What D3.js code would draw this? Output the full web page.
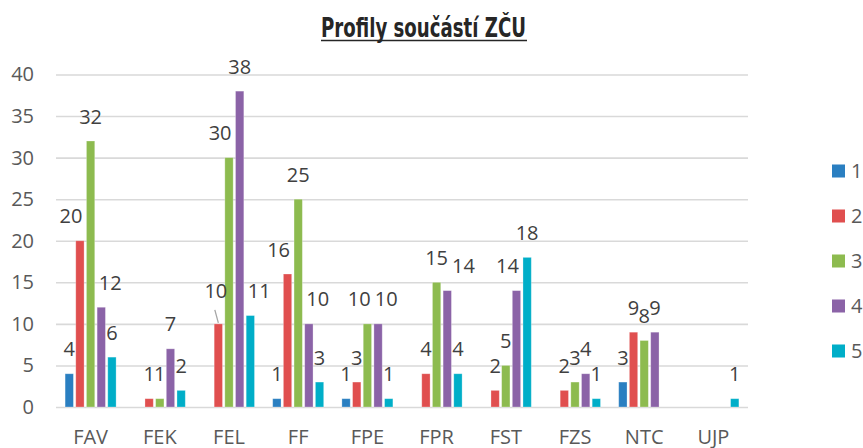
<!DOCTYPE html>
<html>
<head>
<meta charset="utf-8">
<script src="https://cdn.jsdelivr.net/npm/d3@7"></script>
<style>
  body { margin: 0; background: #ffffff; }
</style>
</head>
<body>
<div id="chart"></div>
<script>

// data
var categories = ["FAV", "FEK", "FEL", "FF", "FPE", "FPR", "FST", "FZS", "NTC", "UJP"];
var seriesNames = ["1", "2", "3", "4", "5"];
var s1 = [4, 0, 0, 1, 1, 0, 0, 0, 3, 0];
var s2 = [20, 1, 10, 16, 3, 4, 2, 2, 9, 0];
var s3 = [32, 1, 30, 25, 10, 15, 5, 3, 8, 0];
var s4 = [12, 7, 38, 10, 10, 14, 14, 4, 9, 0];
var s5 = [6, 2, 11, 3, 1, 4, 18, 1, 0, 1];
var yTicks = [0, 5, 10, 15, 20, 25, 30, 35, 40];
var colors = ["#2a7fc1", "#e04f4f", "#8dbb4f", "#8b63a7", "#00aec8"];
var titleText = "Profily součástí ZČU";

// label that was dragged by hand in the original (shows a leader line)
var draggedLabels = [{ cat: "FEL", series: 1, dx: -2.5, dy: -8.5 }];

var seriesValues = [s1, s2, s3, s4, s5];
var fontFamily = "'Open Sans', 'Noto Sans', sans-serif";

var W = 863, H = 448;
var plot = { left: 56, right: 748, top: 74.5, bottom: 407 };

var svg = d3.select("#chart").append("svg")
  .attr("width", W)
  .attr("height", H);

var x0 = d3.scaleBand()
  .domain(categories)
  .range([plot.left, plot.right])
  .paddingInner(0.263)
  .paddingOuter(0.1315);

var x1 = d3.scaleBand()
  .domain(d3.range(seriesNames.length))
  .range([0, x0.bandwidth()])
  .paddingInner(0.22)
  .paddingOuter(0);

var y = d3.scaleLinear()
  .domain([0, 40])
  .range([plot.bottom, plot.top]);


//--------------------------------------
// GRID + AXES
//--------------------------------------

var yAxis = d3.axisLeft(y)
  .tickValues(yTicks)
  .tickSize(-(plot.right - plot.left))
  .tickPadding(22);

var gy = svg.append("g")
  .attr("transform", "translate(" + plot.left + ",0)")
  .call(yAxis);

gy.select(".domain").remove();
gy.selectAll(".tick line")
  .attr("stroke", "#d9d9d9")
  .attr("stroke-width", 1.6);
gy.selectAll(".tick text")
  .attr("font-family", fontFamily)
  .attr("font-size", 20)
  .attr("fill", "#595959");

var xAxis = d3.axisBottom(x0)
  .tickSize(0)
  .tickPadding(23);

var gx = svg.append("g")
  .attr("transform", "translate(0," + plot.bottom + ")")
  .call(xAxis);

gx.select(".domain").remove();
gx.selectAll(".tick text")
  .attr("font-family", fontFamily)
  .attr("font-size", 20)
  .attr("fill", "#595959");


//--------------------------------------
// BARS
//--------------------------------------

var groups = svg.append("g")
  .selectAll("g")
  .data(categories)
  .join("g")
  .attr("transform", function (c) { return "translate(" + x0(c) + ",0)"; });

groups.selectAll("rect")
  .data(function (c, i) {
    return seriesValues.map(function (vals, s) { return { cat: c, series: s, value: vals[i] }; });
  })
  .join("rect")
  .attr("x", function (d) { return x1(d.series); })
  .attr("y", function (d) { return y(d.value); })
  .attr("width", x1.bandwidth())
  .attr("height", function (d) { return y(0) - y(d.value); })
  .attr("fill", function (d) { return colors[d.series]; })
  .attr("stroke", "#ffffff")
  .attr("stroke-opacity", 0.35)
  .attr("stroke-width", 0.8);


//--------------------------------------
// DATA LABELS (outside end, nudged off taller neighbours)
//--------------------------------------

var labelLayer = svg.append("g");
var gap = 4;

categories.forEach(function (c, ci) {

  var placed = [];
  var bars = seriesValues.map(function (vals, s) {
    return {
      value: vals[ci],
      left: x0(c) + x1(s),
      right: x0(c) + x1(s) + x1.bandwidth(),
      top: y(vals[ci])
    };
  });

  bars.forEach(function (bar, s) {

    if (bar.value === 0) return;

    var cx = (bar.left + bar.right) / 2;
    var base = bar.top - 17.5;

    var t = labelLayer.append("text")
      .attr("text-anchor", "middle")
      .attr("font-family", fontFamily)
      .attr("font-size", 20)
      .attr("fill", "#404040")
      .text(bar.value);

    var w = t.node().getComputedTextLength();

    var dragged = draggedLabels.filter(function (d) { return d.cat === c && d.series === s; })[0];

    if (dragged) {
      var lx = cx + dragged.dx, ly = base + dragged.dy;
      t.attr("x", lx).attr("y", ly);
      labelLayer.append("line")
        .attr("x1", lx - 1).attr("y1", ly + 12)
        .attr("x2", cx).attr("y2", bar.top - 1)
        .attr("stroke", "#a6a6a6")
        .attr("stroke-width", 1.3);
      return;
    }

    // keep clear of taller bars next to it
    bars.forEach(function (other, k) {
      if (k === s || other.top > base + 2) return;
      var l = cx - w / 2, r = cx + w / 2;
      if (r > other.left && l < other.right) {
        if (k > s) cx = other.left - gap - w / 2;
        else cx = other.right + gap + w / 2;
      }
    });

    // keep clear of labels already placed
    placed.forEach(function (p) {
      var l = cx - w / 2, r = cx + w / 2;
      var overlapX = Math.min(r, p.cx + p.w / 2) - Math.max(l, p.cx - p.w / 2);
      var overlapY = Math.min(base, p.base) - Math.max(base - 15, p.base - 15);
      if (overlapX > 2 && overlapY > 0) {
        var need = overlapX + gap;
        if (p.value === bar.value) {
          p.cx -= need / 2;
          p.node.attr("x", p.cx);
          cx += need / 2;
        } else {
          cx += need;
        }
      }
    });

    t.attr("x", cx).attr("y", base);
    placed.push({ cx: cx, w: w, base: base, value: bar.value, node: t });

  });

});


//--------------------------------------
// TITLE
//--------------------------------------

svg.append("text")
  .attr("x", 321)
  .attr("y", 36.5)
  .attr("font-family", "'Liberation Sans Narrow', 'DejaVu Sans Condensed', sans-serif")
  .attr("font-weight", "bold")
  .attr("font-size", 27)
  .attr("fill", "#262626")
  .attr("textLength", 205)
  .attr("lengthAdjust", "spacingAndGlyphs")
  .text(titleText);

svg.append("line")
  .attr("x1", 321).attr("x2", 527)
  .attr("y1", 40.5).attr("y2", 40.5)
  .attr("stroke", "#262626")
  .attr("stroke-width", 1.5);


//--------------------------------------
// LEGEND
//--------------------------------------

var legend = svg.append("g")
  .selectAll("g")
  .data(seriesNames)
  .join("g")
  .attr("transform", function (d, i) { return "translate(832," + (171 + i * 45) + ")"; });

legend.append("rect")
  .attr("x", 0)
  .attr("y", -6.5)
  .attr("width", 13)
  .attr("height", 13)
  .attr("fill", function (d, i) { return colors[i]; });

legend.append("text")
  .attr("x", 19)
  .attr("y", 7)
  .attr("font-family", fontFamily)
  .attr("font-size", 20)
  .attr("fill", "#595959")
  .text(function (d) { return d; });

</script>
</body>
</html>
